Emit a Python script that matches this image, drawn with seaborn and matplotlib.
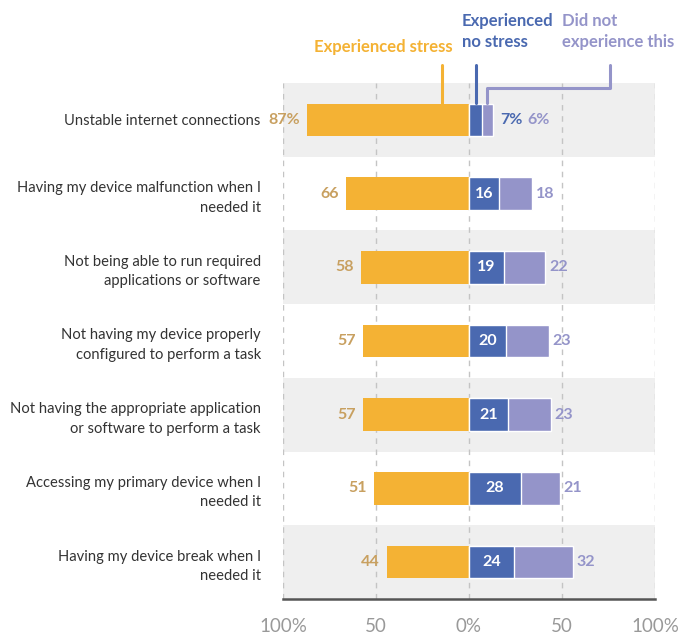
import pandas as pd
import seaborn as sns
import matplotlib.pyplot as plt

# Data
categories = [
    "Unstable internet connections",
    "Having my device malfunction when I\nneeded it",
    "Not being able to run required\napplications or software",
    "Not having my device properly\nconfigured to perform a task",
    "Not having the appropriate application\nor software to perform a task",
    "Accessing my primary device when I\nneeded it",
    "Having my device break when I\nneeded it",
]
stress = [87, 66, 58, 57, 57, 51, 44]
no_stress = [7, 16, 19, 20, 21, 28, 24]
not_experienced = [6, 18, 22, 23, 23, 21, 32]

ticks = [-100, -50, 0, 50, 100]
tick_labels = ["100%", "50", "0%", "50", "100%"]

ORANGE = "#F4B234"
BLUE = "#4A69B0"
PURPLE = "#9494C9"
ORANGE_TXT = "#C8A060"

df = pd.DataFrame({
    "category": categories,
    "stress": stress,
    "no_stress": no_stress,
    "not_experienced": not_experienced,
})
df["stress_neg"] = -df["stress"]
df["right_total"] = df["no_stress"] + df["not_experienced"]

sns.set_style("white")
plt.rcParams["font.family"] = ["Lato", "DejaVu Sans"]

fig = plt.figure(figsize=(6.89, 6.38), dpi=100)
ax = fig.add_axes([283 / 689, 39 / 638, 372 / 689, 516 / 638])

# alternating row bands
for i in range(len(categories)):
    if i % 2 == 0:
        ax.axhspan(i - 0.5, i + 0.5, color="#efefef", lw=0, zorder=0)

# dashed grid
for t in ticks:
    ax.axvline(t, color="#c4c4c4", ls=(0, (4, 4)), lw=1, zorder=0.5)

bar_w = 0.44
sns.barplot(data=df, y="category", x="stress_neg", color=ORANGE, saturation=1,
            width=bar_w, linewidth=0, ax=ax, zorder=2)
sns.barplot(data=df, y="category", x="right_total", color=PURPLE, saturation=1,
            width=bar_w, edgecolor="white", linewidth=1, ax=ax, zorder=2)
sns.barplot(data=df, y="category", x="no_stress", color=BLUE, saturation=1,
            width=bar_w, edgecolor="white", linewidth=1, ax=ax, zorder=3)

# value labels
lab = dict(fontsize=11.5, fontweight="bold", va="center", zorder=4)
for i, row in df.iterrows():
    s, b, p, tot = row["stress"], row["no_stress"], row["not_experienced"], row["right_total"]
    if i == 0:
        ax.text(-s - 4, i, f"{s}%", ha="right", color=ORANGE_TXT, **lab)
        ax.text(tot + 4, i, f"{b}%", ha="left", color=BLUE, **lab)
        ax.text(tot + 18.5, i, f"{p}%", ha="left", color=PURPLE, **lab)
    else:
        ax.text(-s - 4, i, f"{s}", ha="right", color=ORANGE_TXT, **lab)
        ax.text(b / 2, i, f"{b}", ha="center", color="white", **lab)
        ax.text(tot + 2, i, f"{p}", ha="left", color=PURPLE, **lab)

# axes styling
ax.set_xlim(-100, 100)
ax.set_ylim(len(categories) - 0.5, -0.5)
ax.set_xticks(ticks)
ax.set_xticklabels(tick_labels)
ax.set_xlabel("")
ax.set_ylabel("")
ax.tick_params(axis="x", length=0, pad=14, labelsize=13.5, labelcolor="#999999")
ax.tick_params(axis="y", length=0, pad=16, labelsize=10.6, labelcolor="#333333")
for side in ["top", "right", "left"]:
    ax.spines[side].set_visible(False)
ax.spines["bottom"].set_color("#555555")
ax.spines["bottom"].set_linewidth(1.8)
for t in ax.get_yticklabels():
    t.set_linespacing(1.5)

# legend callouts
ax.plot([-14.5, -14.5], [-0.74, -0.23], color=ORANGE, lw=2.2, clip_on=False, zorder=5)
ax.plot([3.8, 3.8], [-0.74, -0.23], color=BLUE, lw=2.2, clip_on=False, zorder=5)
ax.plot([76, 76, 9.7, 9.7], [-0.74, -0.43, -0.43, -0.23], color=PURPLE, lw=2.2,
        clip_on=False, zorder=5)

fig.text(383 / 689, 1 - 52 / 638, "Experienced stress", ha="center", va="baseline",
         color=ORANGE, fontsize=12, fontweight="bold")
fig.text(462 / 689, 1 - 13 / 638, "Experienced\nno stress", ha="left", va="top",
         color=BLUE, fontsize=12, fontweight="bold", linespacing=1.35)
fig.text(562 / 689, 1 - 13 / 638, "Did not\nexperience this", ha="left", va="top",
         color=PURPLE, fontsize=12, fontweight="bold", linespacing=1.35)

plt.savefig("out.png", dpi=100)
